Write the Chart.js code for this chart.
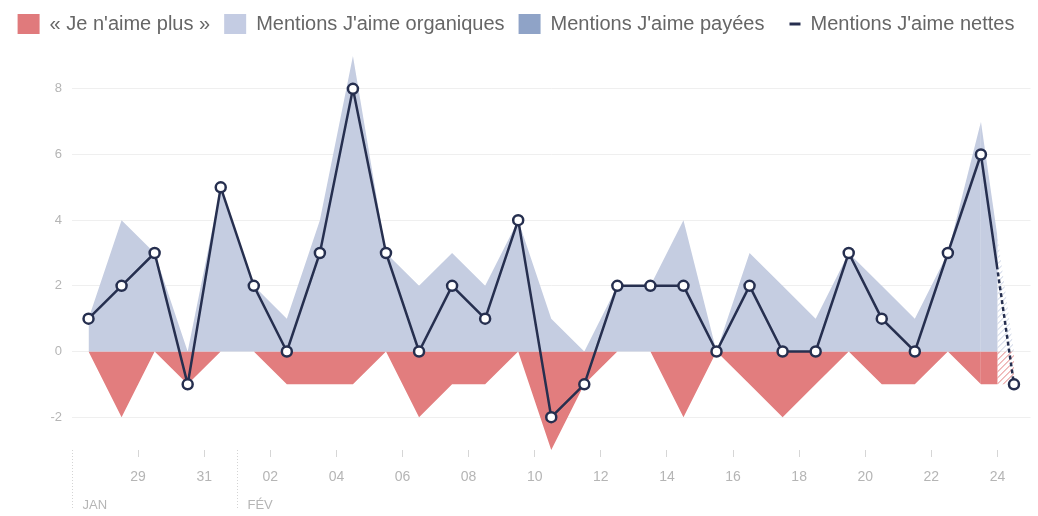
<!DOCTYPE html>
<html>
<head>
<meta charset="utf-8">
<script src="https://cdn.jsdelivr.net/npm/chart.js@4.4.0/dist/chart.umd.min.js"></script>
<style>
  html, body { margin: 0; padding: 0; background: #fff; }
  #wrap { width: 1038px; height: 516px; }
</style>
</head>
<body>
<div id="wrap"><canvas id="chart" width="1038" height="516"></canvas></div>
<script>
// one value per day, 27 jan -> 24 fev (last day incomplete)
const dayLabels = ['27','28','29','30','31','01','02','03','04','05','06','07','08','09','10',
                   '11','12','13','14','15','16','17','18','19','20','21','22','23','24'];
const monthLabels = ['JAN', 'FÉV'];
const monthStarts = [0, 5];            // day index where each month starts
const tickDays = [2,4,6,8,10,12,14,16,18,20,22,24,26,28];
const yTicks = [-2, 0, 2, 4, 6, 8];

const unlikes = [0,-2,0,-1,0,0,-1,-1,-1,0,-2,-1,-1,0,-3,-1,0,0,-2,0,-1,-2,-1,0,-1,-1,0,-1,-1];
const organic = [1,4,3,0,5,2,1,4,9,3,2,3,2,4,1,0,2,2,4,0,3,2,1,3,2,1,3,7,0];
const paid    = [0,0,0,0,0,0,0,0,0,0,0,0,0,0,0,0,0,0,0,0,0,0,0,0,0,0,0,0,0];
const net     = [1,2,3,-1,5,2,0,3,8,3,0,2,1,4,-2,-1,2,2,2,0,2,0,0,3,1,0,3,6,-1];

const RED = '#e27d7e', ORGANIC = '#c5cde1', PAID = '#8fa3c7', NAVY = '#262f4f';

Chart.defaults.font.family = '"Liberation Sans", Arial, sans-serif';

// points sit in the middle of their day
const toPts = arr => arr.map((v, i) => ({x: i + 0.5, y: v}));
const lastSeg = c => c.p1DataIndex === dayLabels.length - 1;

// solid until the middle of the last segment, hatched after
const patternCache = {};
function partHatch(c, color){
  const mid = (c.p0.x + c.p1.x) / 2;
  const key = color + mid.toFixed(1);
  if(patternCache[key]) return patternCache[key];
  const W = c.chart.width, H = 6;
  const cv = document.createElement('canvas');
  cv.width = W; cv.height = H;
  const g = cv.getContext('2d');
  g.fillStyle = color;
  g.fillRect(0, 0, mid, H);
  g.save();
  g.beginPath(); g.rect(mid, 0, W - mid, H); g.clip();
  g.strokeStyle = color; g.lineWidth = 1;
  g.beginPath();
  for(let x0 = mid - H; x0 < W; x0 += H){ g.moveTo(x0, H); g.lineTo(x0 + H, 0); }
  g.stroke();
  g.restore();
  return patternCache[key] = c.chart.ctx.createPattern(cv, 'repeat');
}

function partDash(c){
  const len = Math.hypot(c.p1.x - c.p0.x, c.p1.y - c.p0.y);
  const d = [len / 2, 3];
  let sum = len / 2 + 3;
  while(sum < len){ d.push(4, 3); sum += 7; }
  return d;
}

// extra room between legend and plot
const legendGap = {
  id: 'legendGap',
  beforeInit(chart){
    const fit = chart.legend.fit;
    chart.legend.fit = function(){ fit.call(this); this.height += 12; };
  }
};

// month names + dotted separators under the day labels
const monthPlugin = {
  id: 'months',
  afterDraw(chart){
    const {ctx, chartArea} = chart;
    const x = chart.scales.x;
    ctx.save();
    ctx.strokeStyle = '#d4d4d4';
    ctx.lineWidth = 1;
    ctx.setLineDash([1, 2]);
    ctx.font = '13px "Liberation Sans", Arial, sans-serif';
    ctx.fillStyle = '#b5b5b5';
    ctx.textBaseline = 'middle';
    monthStarts.forEach((d, i) => {
      const px = Math.round(x.getPixelForValue(d)) + 0.5;
      ctx.beginPath();
      ctx.moveTo(px, chartArea.bottom);
      ctx.lineTo(px, chartArea.bottom + 58);
      ctx.stroke();
      ctx.fillText(monthLabels[i], px + 10, chartArea.bottom + 55);
    });
    ctx.restore();
  }
};

new Chart(document.getElementById('chart'), {
  type: 'line',
  data: {
    datasets: [
      {
        label: '« Je n\'aime plus »',
        data: toPts(unlikes),
        backgroundColor: RED,
        legendColor: '#e07a7c',
        borderWidth: 0, pointRadius: 0,
        fill: 'origin', stack: 'unlike', order: 3,
        segment: { backgroundColor: c => lastSeg(c) ? partHatch(c, RED) : undefined }
      },
      {
        label: 'Mentions J\'aime organiques',
        data: toPts(organic),
        backgroundColor: ORGANIC,
        legendColor: '#c4cce3',
        borderWidth: 0, pointRadius: 0,
        fill: 'origin', stack: 'likes', order: 1,
        segment: { backgroundColor: c => lastSeg(c) ? partHatch(c, ORGANIC) : undefined }
      },
      {
        // stacked on top of organic (order must be higher so it stacks after it)
        label: 'Mentions J\'aime payées',
        data: toPts(paid),
        backgroundColor: PAID,
        legendColor: PAID,
        borderWidth: 0, pointRadius: 0,
        fill: '-1', stack: 'likes', order: 2
      },
      {
        label: 'Mentions J\'aime nettes',
        data: toPts(net),
        borderColor: NAVY,
        legendColor: NAVY,
        borderWidth: 2.5,
        pointRadius: 5,
        pointBackgroundColor: '#fff',
        pointBorderColor: NAVY,
        pointBorderWidth: 2.5,
        fill: false, stack: 'net', order: 0,
        segment: { borderDash: c => lastSeg(c) ? partDash(c) : undefined }
      }
    ]
  },
  options: {
    responsive: false,
    animation: false,
    layout: { padding: { left: 0, right: 6, top: 0, bottom: 0 } },
    plugins: {
      tooltip: { enabled: false },
      legend: {
        position: 'top',
        labels: {
          usePointStyle: true,
          pointStyleWidth: 22,
          boxHeight: 20,
          padding: 14,
          color: '#666',
          font: { size: 20 },
          generateLabels: chart => chart.data.datasets.map((ds, i) => ({
            text: ds.label,
            fillStyle: ds.legendColor,
            strokeStyle: ds.legendColor,
            fontColor: '#666',
            lineWidth: i === 3 ? 3 : 0,
            pointStyle: i === 3 ? 'dash' : 'rect',
            rotation: 0,
            hidden: false,
            datasetIndex: i
          }))
        }
      }
    },
    scales: {
      x: {
        type: 'linear',
        min: 0,
        max: dayLabels.length,
        border: { display: false },
        grid: { drawOnChartArea: false, drawTicks: true, tickLength: 7, color: '#d6d6d6' },
        afterBuildTicks: s => { s.ticks = tickDays.map(v => ({value: v})); },
        ticks: {
          autoSkip: false, maxRotation: 0, padding: 12,
          color: '#b5b5b5', font: { size: 14 },
          callback: v => dayLabels[v]
        },
        afterFit: s => { s.height = 66; }
      },
      y: {
        stacked: true,
        min: -3,
        max: 9,
        border: { display: false },
        grid: { color: '#efefef', drawTicks: false },
        afterBuildTicks: s => { s.ticks = yTicks.map(v => ({value: v})); },
        ticks: { padding: 10, color: '#b5b5b5', font: { size: 13 } },
        afterFit: s => { s.width = 72; }
      }
    }
  },
  plugins: [legendGap, monthPlugin]
});
</script>
</body>
</html>
